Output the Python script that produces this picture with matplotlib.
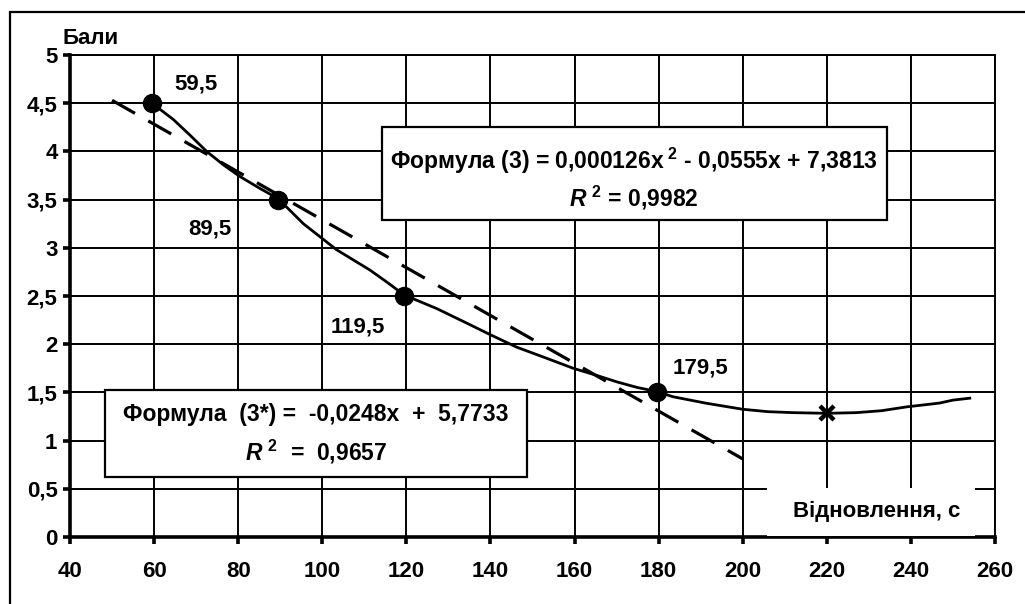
import matplotlib
matplotlib.use("Agg")
import matplotlib.pyplot as plt
from matplotlib.patches import Rectangle

plt.rcParams['font.family'] = ['Liberation Sans', 'DejaVu Sans']
plt.rcParams['font.weight'] = 'bold'
plt.rcParams['mathtext.fontset'] = 'custom'
plt.rcParams['mathtext.rm'] = 'Liberation Sans:bold'
plt.rcParams['mathtext.it'] = 'Liberation Sans:bold:italic'
plt.rcParams['mathtext.bf'] = 'Liberation Sans:bold'
plt.rcParams['lines.scale_dashes'] = False

# ---- data ----
point_x = [59.5, 89.5, 119.5, 179.5]
point_y = [4.5, 3.5, 2.5, 1.5]
point_labels = ["59,5", "89,5", "119,5", "179,5"]

curve_x = [59.5, 64.6, 68.5, 72.5, 76.5, 80.4, 85, 89.5, 95.5, 103.4, 111.3, 115.5, 119.5,
           127.2, 134.3, 139.9, 146.2, 153, 159.7, 165, 170, 175, 179.5, 183.4, 191.4,
           200, 206, 212, 220, 227, 233, 239, 243, 246.9, 250, 254]
curve_y = [4.5, 4.33, 4.17, 4.0, 3.86, 3.74, 3.62, 3.51, 3.25, 2.98, 2.77, 2.64, 2.51,
           2.37, 2.22, 2.10, 1.97, 1.86, 1.75, 1.68, 1.61, 1.55, 1.51, 1.455, 1.387,
           1.325, 1.30, 1.29, 1.283, 1.29, 1.31, 1.35, 1.37, 1.39, 1.42, 1.44]

min_x = [220]
min_y = [1.29]

lin_x = [50, 200]
lin_y = [4.53, 0.81]

x_ticks = [40, 60, 80, 100, 120, 140, 160, 180, 200, 220, 240, 260]
y_ticks = [0, 0.5, 1, 1.5, 2, 2.5, 3, 3.5, 4, 4.5, 5]
y_tick_labels = ["0", "0,5", "1", "1,5", "2", "2,5", "3", "3,5", "4", "4,5", "5"]

formula_quad = ["Формула (3) = 0,000126x$^{\\ 2}$ - 0,0555x + 7,3813", "$R^{\\ 2}$ = 0,9982"]
formula_lin = ["Формула  (3*) =  -0,0248x  +  5,7733", "$R^{\\ 2}$  =  0,9657"]
y_title = "Бали"
x_title = "Відновлення, с"

# ---- figure ----
W, H = 1025, 604
fig = plt.figure(figsize=(W / 100, H / 100), dpi=100)


def fx(px):
    return px / W


def fy(py):
    return 1 - py / H


ax = fig.add_axes([fx(70), fy(537), fx(995) - fx(70), fy(55) - fy(537)])
ax.set_xlim(40, 260)
ax.set_ylim(0, 5)
ax.set_xticks(x_ticks)
ax.set_yticks(y_ticks)
ax.set_yticklabels(y_tick_labels)
ax.grid(True, color='black', linewidth=1.4)
ax.set_axisbelow(True)
for s in ['top', 'right']:
    ax.spines[s].set_linewidth(1.4)
for s in ['left', 'bottom']:
    ax.spines[s].set_linewidth(2.6)
ax.tick_params(axis='both', direction='out', length=5, width=2.6, labelsize=16, pad=4)
for lab in ax.get_xticklabels() + ax.get_yticklabels():
    lab.set_fontweight('bold')
ax.tick_params(axis='x', pad=12)

# curve and trend line
ax.plot(curve_x, curve_y, color='black', linewidth=2.0, zorder=3, solid_joinstyle='round')
ax.plot(lin_x, lin_y, color='black', linewidth=2.3, dashes=(19, 11),
        dash_capstyle='butt', zorder=3)
ax.plot(point_x, point_y, 'o', color='black', markersize=13, zorder=4)
ax.plot(min_x, min_y, marker='x', color='black', markersize=10, markeredgewidth=3.2,
        linestyle='none', zorder=4)

# point labels (pixel positions)
label_pos = [(196, 84), (210, 229), (358, 327), (700, 368)]
for (px, py), t in zip(label_pos, point_labels):
    fig.text(fx(px), fy(py), t, ha='center', va='center', fontsize=16, fontweight='bold')

# formula boxes
def box(x0, y0, x1, y1, lines, ys, cx, fs):
    r = Rectangle((fx(x0), fy(y1)), fx(x1) - fx(x0), fy(y0) - fy(y1),
                  transform=fig.transFigure, facecolor='white', edgecolor='black',
                  linewidth=1.6, zorder=5)
    fig.patches.append(r)
    for t, yy in zip(lines, ys):
        fig.text(fx(cx), fy(yy), t, ha='center', va='center', fontsize=fs,
                 fontweight='bold', zorder=6)

box(382, 127, 887, 220, formula_quad, [161, 198], 634, 16.5)
box(105, 390, 527, 477, formula_lin, [415, 452], 316, 16.5)

# x title box (white, no border)
r = Rectangle((fx(767), fy(536)), fx(975) - fx(767), fy(488) - fy(536),
              transform=fig.transFigure, facecolor='white', edgecolor='none', zorder=5)
fig.patches.append(r)
fig.text(fx(877), fy(511), x_title, ha='center', va='center', fontsize=16, fontweight='bold', zorder=6)

# y title
fig.text(fx(62), fy(39), y_title, ha='left', va='center', fontsize=16, fontweight='bold')

# outer border (clipped at right and bottom)
border = Rectangle((fx(10), fy(640)), fx(1060) - fx(10), fy(12) - fy(640),
                   transform=fig.transFigure, facecolor='none', edgecolor='black',
                   linewidth=1.6, zorder=1)
fig.patches.append(border)

fig.savefig("out.png", dpi=100)
